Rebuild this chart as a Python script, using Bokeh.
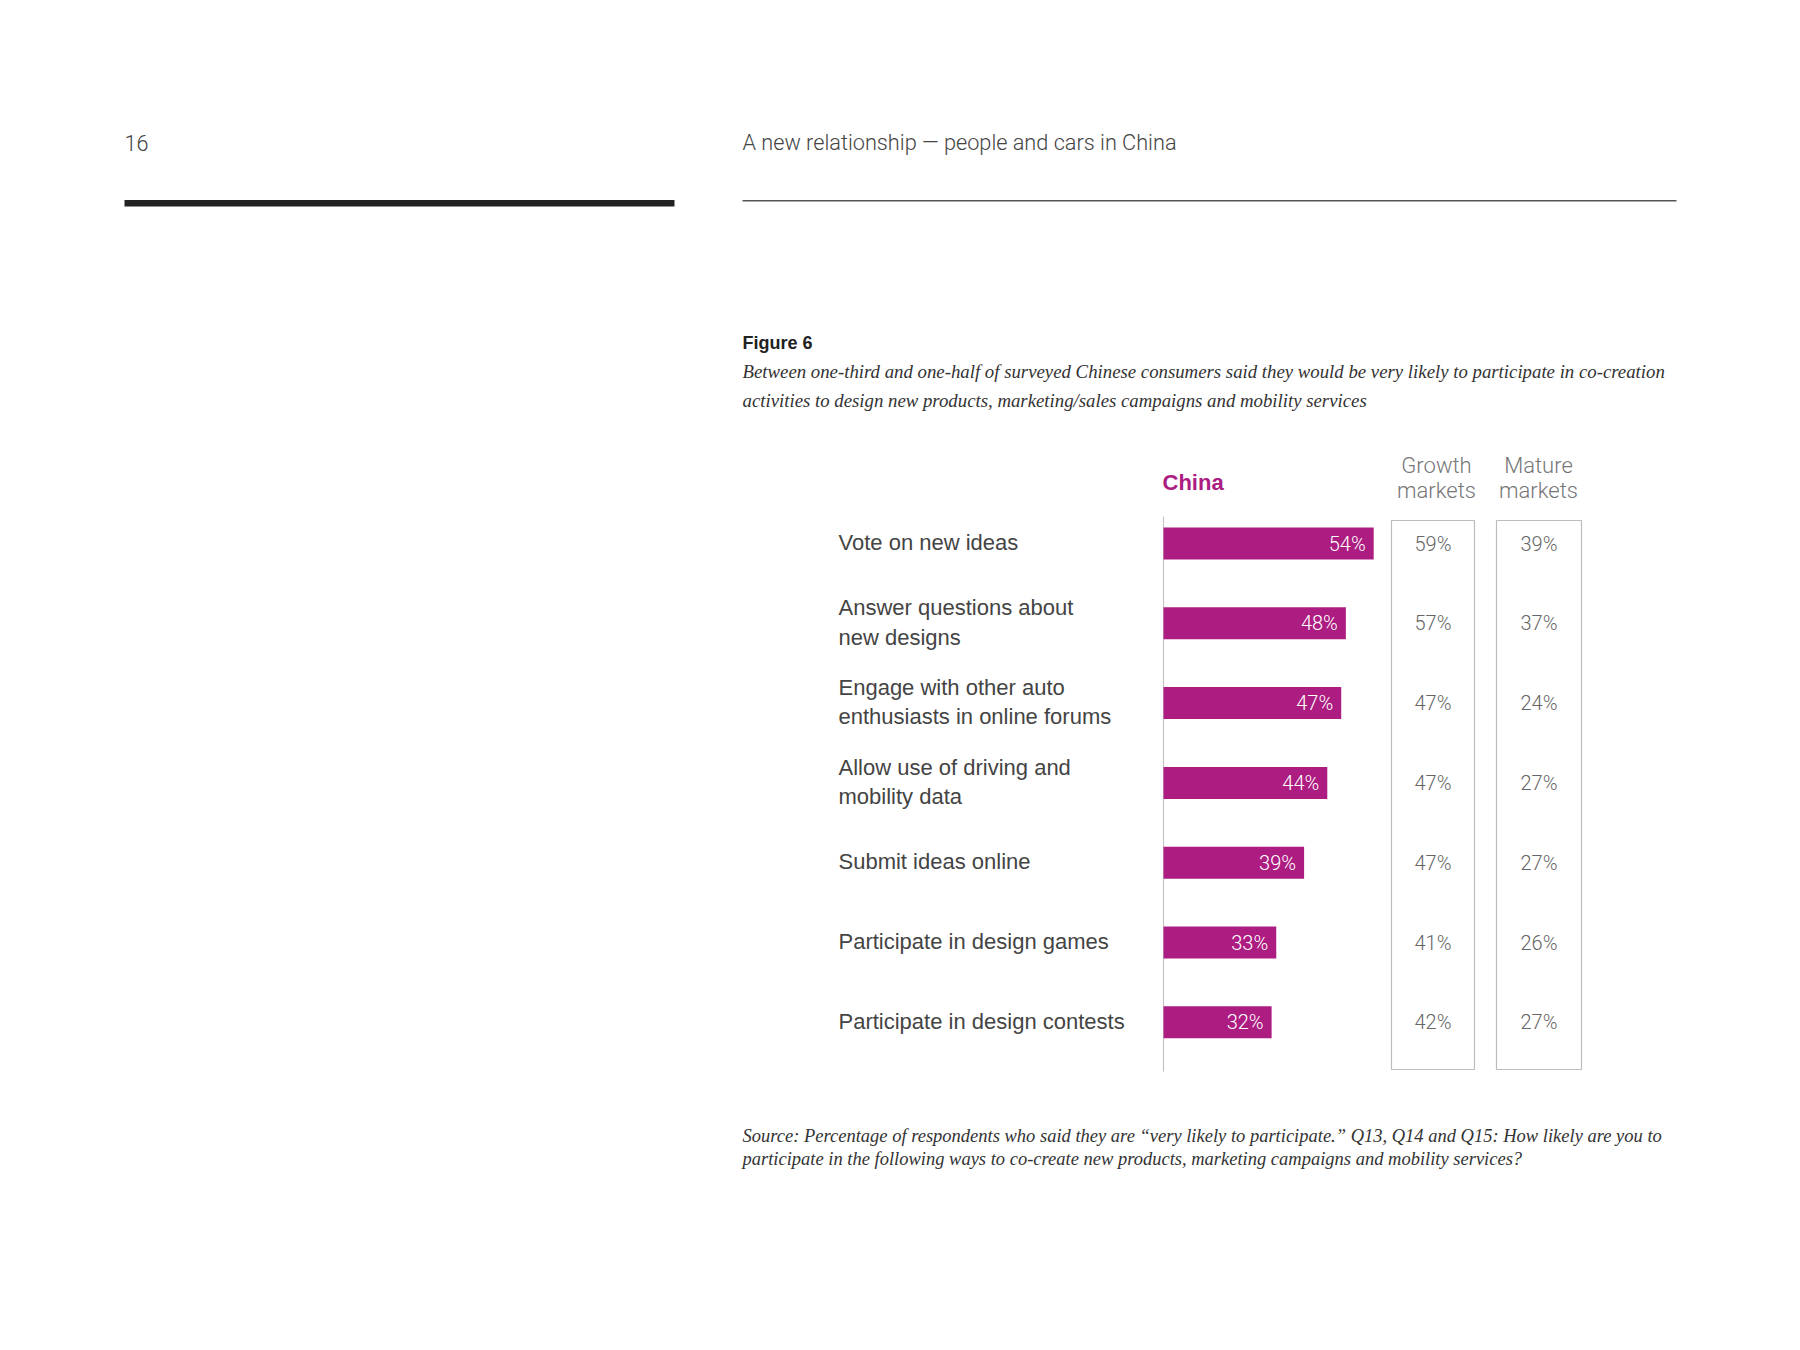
from bokeh.plotting import figure
from bokeh.models import Range1d, ColumnDataSource, Label, LabelSet
from bokeh.core.properties import value
from bokeh.embed import file_html
from bokeh.resources import INLINE

# ---------------- data ----------------
categories = [
    "Vote on new ideas",
    "Answer questions about\nnew designs",
    "Engage with other auto\nenthusiasts in online forums",
    "Allow use of driving and\nmobility data",
    "Submit ideas online",
    "Participate in design games",
    "Participate in design contests",
]
china = [54, 48, 47, 44, 39, 33, 32]
growth = [59, 57, 47, 47, 47, 41, 42]
mature = [39, 37, 24, 27, 27, 26, 27]
col_headers = ["Growth\nmarkets", "Mature\nmarkets"]

page_number = "16"
page_title = "A new relationship \u2014 people and cars in China"
fig_label = "Figure 6"
subtitle = ["Between one-third and one-half of surveyed Chinese consumers said they would be very likely to participate in co-creation",
            "activities to design new products, marketing/sales campaigns and mobility services"]
source_note = ["Source: Percentage of respondents who said they are \u201cvery likely to participate.\u201d Q13, Q14 and Q15: How likely are you to",
               "participate in the following ways to co-create new products, marketing campaigns and mobility services?"]

# ---------------- layout (page pixels) ----------------
W, H = 1784, 1334
AXIS_PX, AXIS_TOP_PX, AXIS_BOT_PX = 1163, 516, 1071
X0 = 8.7            # value at the axis line
PPX = 4.64          # pixels per percentage point
ROW_PX = 79.8       # pixels per row
FIRST_ROW_PX = 543  # centre of first row
n = len(categories)


def px_x(px):
    return X0 + (px - AXIS_PX) / PPX


def px_y(py):
    return (py - FIRST_ROW_PX) / ROW_PX


MAGENTA = "#AC1C81"
DARK = "#444444"
GREY = "#666666"
SANS = "Liberation Sans"
LIGHT = "Roboto Light"
SERIF = "Liberation Serif"

GROWTH_L, GROWTH_R = px_x(1391), px_x(1474)
MATURE_L, MATURE_R = px_x(1496), px_x(1581)

p = figure(width=W, height=H, output_backend="svg", toolbar_location=None,
           x_range=Range1d(px_x(0), px_x(W)), y_range=Range1d(px_y(H), px_y(0)),
           x_axis_location=None, y_axis_location=None, min_border=0)
p.outline_line_color = None
p.grid.visible = False

idx = list(range(n))
src = ColumnDataSource(dict(
    idx=idx, cat=categories, china=china, growth=growth, mature=mature,
    china_t=[f"{v}%" for v in china],
    growth_t=[f"{v}%" for v in growth],
    mature_t=[f"{v}%" for v in mature],
    gx=[(GROWTH_L + GROWTH_R) / 2] * n,
    mx=[(MATURE_L + MATURE_R) / 2] * n,
))

# axis line
p.segment(x0=[X0], y0=[px_y(AXIS_TOP_PX)], x1=[X0], y1=[px_y(AXIS_BOT_PX)],
          line_color="#c4c4c4", line_width=1.2)

# bars
p.hbar(y="idx", left=X0, right="china", height=32 / ROW_PX, source=src,
       fill_color=MAGENTA, line_color=None)
p.text(x="china", y="idx", text="china_t", source=src, x_offset=-8,
       text_align="right", text_baseline="middle", text_color="white",
       text_font=value(LIGHT), text_font_size="20px")

# column boxes
box_top, box_bot = px_y(520), px_y(1069)
p.quad(left=[GROWTH_L, MATURE_L], right=[GROWTH_R, MATURE_R], top=box_top, bottom=box_bot,
       fill_color=None, line_color="#bdbdbd", line_width=1.2)
p.text(x="gx", y="idx", text="growth_t", source=src, text_align="center", text_baseline="middle",
       text_color=GREY, text_font=value(LIGHT), text_font_size="20px")
p.text(x="mx", y="idx", text="mature_t", source=src, text_align="center", text_baseline="middle",
       text_color=GREY, text_font=value(LIGHT), text_font_size="20px")

# category labels
p.add_layout(LabelSet(x=px_x(838), y="idx", text="cat", source=src, y_offset=1,
                      text_align="left", text_baseline="middle", text_color=DARK,
                      text_font=value(SANS), text_font_size="22px", text_line_height=1.18))


def label(px, py, text, size, color, style="normal", font=SANS, align="left", lh=1.1):
    p.add_layout(Label(x=px_x(px), y=px_y(py), text=text, text_font_size=size,
                       text_color=color, text_font_style=style, text_font=font,
                       text_align=align, text_baseline="middle", text_line_height=lh))


# column headers
label(1162, 482, "China", "22px", MAGENTA, "bold")
label(1436, 477, col_headers[0], "22px", "#777777", font=LIGHT, align="center", lh=1.0)
label(1538, 477, col_headers[1], "22px", "#777777", font=LIGHT, align="center", lh=1.0)

# page header
label(124, 142, page_number, "21.7px", "#444444", font=LIGHT)
label(742, 142, page_title, "21.7px", "#444444", font=LIGHT)
p.quad(left=[px_x(124), px_x(742)], right=[px_x(674), px_x(1676)],
       top=[px_y(199.5), px_y(199.5)], bottom=[px_y(206), px_y(201)],
       fill_color=["#222222", "#555555"], line_color=None)

# figure caption
label(742, 342, fig_label, "18px", "#222222", "bold")
label(742, 371, subtitle[0], "18.8px", "#333333", "italic", SERIF)
label(742, 400, subtitle[1], "18.8px", "#333333", "italic", SERIF)

# source
label(742, 1135, source_note[0], "18.5px", "#333333", "italic", SERIF)
label(742, 1158, source_note[1], "18.5px", "#333333", "italic", SERIF)

open("out.html", "w").write(file_html(p, INLINE))
